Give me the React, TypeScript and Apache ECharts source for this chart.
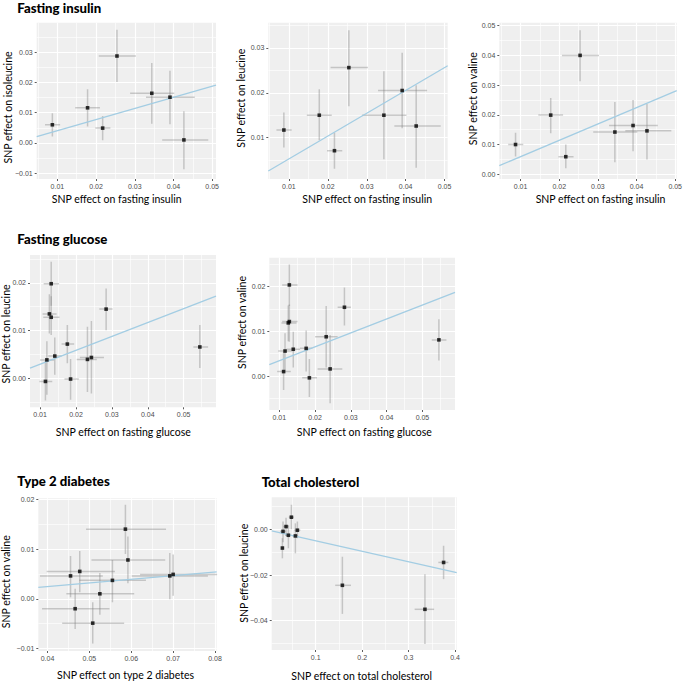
import React, { useEffect, useRef } from "react";
import * as echarts from "echarts";

// rows: [x, y, xLow, xHigh, yLow, yHigh]
const insulinIsoleucine = [
  [0.0087, 0.006, 0.0068, 0.0107, 0.0021, 0.0098],
  [0.0178, 0.0116, 0.0146, 0.021, 0.0054, 0.0177],
  [0.0217, 0.0049, 0.0198, 0.0237, 0.0009, 0.0089],
  [0.0254, 0.0287, 0.0207, 0.0303, 0.0201, 0.0374],
  [0.0344, 0.0164, 0.0288, 0.0402, 0.0063, 0.0264],
  [0.0391, 0.0151, 0.0329, 0.0455, 0.0062, 0.0238],
  [0.0427, 0.001, 0.0371, 0.049, -0.0087, 0.0105],
];
const insulinLeucine = [
  [0.0087, 0.0117, 0.0068, 0.0107, 0.0078, 0.0156],
  [0.0178, 0.015, 0.0146, 0.021, 0.0094, 0.0208],
  [0.0217, 0.0071, 0.0198, 0.0237, 0.0031, 0.0111],
  [0.0254, 0.0256, 0.0207, 0.0303, 0.017, 0.0339],
  [0.0344, 0.015, 0.0288, 0.0402, 0.0052, 0.0248],
  [0.0391, 0.0205, 0.0329, 0.0455, 0.0121, 0.0289],
  [0.0427, 0.0126, 0.0371, 0.049, 0.0033, 0.0217],
];
const insulinValine = [
  [0.0087, 0.01, 0.0068, 0.0107, 0.006, 0.014],
  [0.0178, 0.0199, 0.0146, 0.021, 0.0138, 0.0257],
  [0.0217, 0.0059, 0.0198, 0.0237, 0.002, 0.01],
  [0.0254, 0.04, 0.0207, 0.0303, 0.0313, 0.0485],
  [0.0344, 0.0142, 0.0288, 0.0402, 0.004, 0.0243],
  [0.0391, 0.0164, 0.0329, 0.0455, 0.0077, 0.025],
  [0.0427, 0.0146, 0.0371, 0.049, 0.005, 0.0236],
];
const glucoseLeucine = [
  [0.0131, 0.0198, 0.011, 0.0153, 0.0152, 0.0244],
  [0.0126, 0.0135, 0.0107, 0.0146, 0.0094, 0.0176],
  [0.0131, 0.0128, 0.0109, 0.0154, 0.0091, 0.0172],
  [0.0284, 0.0145, 0.0265, 0.0302, 0.0101, 0.0188],
  [0.0176, 0.0072, 0.016, 0.0195, 0.0032, 0.0112],
  [0.0141, 0.0047, 0.0123, 0.016, 0.0008, 0.0086],
  [0.0119, 0.0039, 0.01, 0.0139, -0.0034, 0.0078],
  [0.0115, -0.0006, 0.0098, 0.0134, -0.0046, 0.0037],
  [0.0185, -0.0001, 0.0168, 0.0208, -0.0044, 0.0041],
  [0.0232, 0.004, 0.0202, 0.0258, -0.0028, 0.0108],
  [0.0243, 0.0044, 0.0211, 0.0278, -0.0031, 0.012],
  [0.0545, 0.0066, 0.0527, 0.0568, 0.0022, 0.0112],
];
const glucoseValine = [
  [0.0128, 0.0204, 0.0108, 0.0151, 0.0157, 0.025],
  [0.0128, 0.0122, 0.0108, 0.0151, 0.0077, 0.016],
  [0.0125, 0.0119, 0.0106, 0.0148, 0.0078, 0.0158],
  [0.0282, 0.0154, 0.0263, 0.03, 0.0113, 0.0198],
  [0.0175, 0.0062, 0.0158, 0.0192, 0.001, 0.0102],
  [0.0139, 0.006, 0.012, 0.0158, 0.0019, 0.0099],
  [0.0116, 0.0056, 0.0097, 0.0135, 0.0013, 0.0096],
  [0.0112, 0.001, 0.0094, 0.0132, -0.0031, 0.0053],
  [0.0184, -0.0004, 0.0164, 0.0205, -0.0047, 0.0038],
  [0.0231, 0.0088, 0.02, 0.0263, 0.0019, 0.0157],
  [0.0242, 0.0016, 0.0207, 0.0276, -0.0061, 0.0092],
  [0.0546, 0.0081, 0.0526, 0.0567, 0.0035, 0.0127],
];
const t2dValine = [
  [0.0586, 0.014, 0.0492, 0.0683, 0.009, 0.0189],
  [0.0592, 0.0078, 0.0505, 0.0681, 0.0031, 0.0125],
  [0.0477, 0.0055, 0.0398, 0.0561, 0.0013, 0.0096],
  [0.0455, 0.0046, 0.0382, 0.0532, 0.0003, 0.0086],
  [0.0555, 0.0037, 0.0476, 0.0635, -0.0007, 0.0078],
  [0.0692, 0.0046, 0.0601, 0.0783, -0.0001, 0.0092],
  [0.07, 0.0049, 0.0621, 0.0805, 0.0006, 0.0089],
  [0.0525, 0.001, 0.0445, 0.0607, -0.0032, 0.0052],
  [0.0466, -0.002, 0.0387, 0.0548, -0.0061, 0.002],
  [0.0508, -0.0049, 0.0435, 0.0583, -0.009, -0.0007],
];
const cholesterolLeucine = [
  [0.0476, 0.0053, 0.042, 0.053, 0.0, 0.0107],
  [0.0361, 0.0012, 0.03, 0.042, -0.0029, 0.0051],
  [0.0296, -0.0009, 0.023, 0.036, -0.0057, 0.0034],
  [0.0411, -0.0026, 0.035, 0.047, -0.0083, 0.0019],
  [0.0605, -0.0004, 0.054, 0.067, -0.0039, 0.0034],
  [0.0562, -0.0029, 0.05, 0.062, -0.0105, 0.0026],
  [0.0282, -0.0082, 0.025, 0.032, -0.0127, -0.0039],
  [0.1574, -0.0245, 0.142, 0.176, -0.037, -0.012],
  [0.3352, -0.035, 0.313, 0.355, -0.0502, -0.0197],
  [0.3754, -0.0145, 0.364, 0.3856, -0.0218, -0.0072],
];

// regression lines: [slope, intercept]
const fitLines = [
  [0.367, 0.0004],
  [0.508, 0.0002],
  [0.551, 0.0004],
  [0.29, 0.0001],
  [0.312, 0.0003],
  [0.0728, -0.00045],
  [-0.046, -0.0004],
];

// axis extents [min, max]
const xExtents = [
  [0.00465, 0.051],
  [0.0047, 0.0508],
  [0.0045, 0.0504],
  [0.0072, 0.059],
  [0.0072, 0.0591],
  [0.0378, 0.0804],
  [0.0052, 0.4036],
];
const yExtents = [
  [-0.0119, 0.0397],
  [0.0008, 0.0356],
  [-0.0016, 0.051],
  [-0.006, 0.0258],
  [-0.0076, 0.0265],
  [-0.0105, 0.0202],
  [-0.0528, 0.014],
];

// tick labels
const xTicks = [
  [0.01, 0.02, 0.03, 0.04, 0.05],
  [0.01, 0.02, 0.03, 0.04, 0.05],
  [0.01, 0.02, 0.03, 0.04, 0.05],
  [0.01, 0.02, 0.03, 0.04, 0.05],
  [0.01, 0.02, 0.03, 0.04, 0.05],
  [0.04, 0.05, 0.06, 0.07, 0.08],
  [0.1, 0.2, 0.3, 0.4],
];
const yTicks = [
  [-0.01, 0.0, 0.01, 0.02, 0.03],
  [0.01, 0.02, 0.03],
  [0.0, 0.01, 0.02, 0.03, 0.04, 0.05],
  [0.0, 0.01, 0.02],
  [0.0, 0.01, 0.02],
  [-0.01, 0.0, 0.01, 0.02],
  [-0.04, -0.02, 0.0],
];
const xDecimals = [2, 2, 2, 2, 2, 2, 1];
const xSplit = [5, 5, 5, 5, 5, 5, 5];
const ySplit = [5, 3, 5, 3, 3, 3, 3];

const panelTitles = ["Fasting insulin", "Fasting glucose", "Type 2 diabetes", "Total cholesterol"];
const xTitles = [
  "SNP effect on fasting insulin",
  "SNP effect on fasting insulin",
  "SNP effect on fasting insulin",
  "SNP effect on fasting glucose",
  "SNP effect on fasting glucose",
  "SNP effect on type 2 diabetes",
  "SNP effect on total cholesterol",
];
const yTitles = [
  "SNP effect on isoleucine",
  "SNP effect on leucine",
  "SNP effect on valine",
  "SNP effect on leucine",
  "SNP effect on valine",
  "SNP effect on valine",
  "SNP effect on leucine",
];

const panels = [insulinIsoleucine, insulinLeucine, insulinValine, glucoseLeucine, glucoseValine, t2dValine, cholesterolLeucine];

// layout (pixels)
const grids = [
  { left: 36.7, top: 22.7, width: 179.3, height: 156.3 },
  { left: 268.3, top: 22.7, width: 179.4, height: 156.3 },
  { left: 499.3, top: 22.7, width: 179, height: 156.3 },
  { left: 30, top: 255, width: 186, height: 152.3 },
  { left: 269.3, top: 257.7, width: 185.7, height: 152.3 },
  { left: 38.3, top: 498.3, width: 178.4, height: 152.7 },
  { left: 271.7, top: 497.3, width: 185, height: 152.7 },
];
const xTitlePos = [
  [116.7, 199], [367.2, 199], [600.5, 199], [123.3, 431.7], [364.3, 431.7], [125.5, 675], [361.7, 675.7],
];
const yTitlePos = [
  [8, 107.5], [241.3, 98.3], [473.3, 98.7], [5.5, 334], [241.7, 322.5], [5.5, 581.7], [244.2, 573.3],
];
const panelTitlePos = [
  [17.3, 7.5], [17.3, 239], [17.3, 481.3], [261.7, 481.7],
];

const FONT = "Lato";
const BG = "#EFEFEF";

function fmt(v: number, d: number) {
  const s = Math.abs(v).toFixed(d);
  return (v < -1e-12 ? "\u2212" : "") + s;
}

export default function App() {
  const ref = useRef<HTMLDivElement>(null);
  useEffect(() => {
    if (!ref.current) return;
    const chart = echarts.init(ref.current, undefined, { renderer: "svg" });

    const xAxis = panels.map((_, i) => ({
      type: "value",
      gridIndex: i,
      position: "bottom",
      min: xExtents[i][0],
      max: xExtents[i][1],
      splitNumber: xSplit[i],
      axisLine: { show: false, onZero: false },
      axisTick: { show: true, length: 2, customValues: xTicks[i], lineStyle: { color: "#333", width: 0.8 } },
      axisLabel: {
        customValues: xTicks[i],
        formatter: (v: number) => fmt(v, xDecimals[i]),
        fontFamily: "Liberation Sans",
        fontSize: 7,
        color: "#4D4D4D",
        margin: 4,
      },
      splitLine: { show: true, lineStyle: { color: "#FFFFFF", width: 1.2 } },
      minorTick: { show: false, splitNumber: 2 },
      minorSplitLine: { show: true, lineStyle: { color: "#FFFFFF", width: 0.6 } },
    }));
    const yAxis = panels.map((_, i) => ({
      type: "value",
      gridIndex: i,
      position: "left",
      min: yExtents[i][0],
      max: yExtents[i][1],
      splitNumber: ySplit[i],
      axisLine: { show: false, onZero: false },
      axisTick: { show: true, length: 2, customValues: yTicks[i], lineStyle: { color: "#333", width: 0.8 } },
      axisLabel: {
        customValues: yTicks[i],
        formatter: (v: number) => fmt(v, 2),
        fontFamily: "Liberation Sans",
        fontSize: 7,
        color: "#4D4D4D",
        margin: 4,
      },
      splitLine: { show: true, lineStyle: { color: "#FFFFFF", width: 1.2 } },
      minorTick: { show: false, splitNumber: 2 },
      minorSplitLine: { show: true, lineStyle: { color: "#FFFFFF", width: 0.6 } },
    }));

    const series: any[] = [];
    panels.forEach((rows, i) => {
      series.push({
        type: "custom",
        xAxisIndex: i,
        yAxisIndex: i,
        clip: true,
        silent: true,
        data: rows,
        encode: { x: 0, y: 1 },
        renderItem: (_p: any, api: any) => {
          const x = api.value(0), y = api.value(1);
          const a = api.coord([api.value(2), y]);
          const b = api.coord([api.value(3), y]);
          const c = api.coord([x, api.value(4)]);
          const d = api.coord([x, api.value(5)]);
          const st = { stroke: "rgba(125,125,125,0.38)", lineWidth: 1.5 };
          return {
            type: "group",
            children: [
              { type: "line", shape: { x1: a[0], y1: a[1], x2: b[0], y2: b[1] }, style: st },
              { type: "line", shape: { x1: c[0], y1: c[1], x2: d[0], y2: d[1] }, style: st },
            ],
          };
        },
        z: 2,
      });
      const [s, b] = fitLines[i];
      const [x0, x1] = xExtents[i];
      series.push({
        type: "line",
        xAxisIndex: i,
        yAxisIndex: i,
        data: [[x0, s * x0 + b], [x1, s * x1 + b]],
        symbol: "none",
        lineStyle: { color: "#A3CDE3", width: 1.3 },
        silent: true,
        z: 3,
      });
      series.push({
        type: "scatter",
        xAxisIndex: i,
        yAxisIndex: i,
        data: rows.map((r) => [r[0], r[1]]),
        symbol: "rect",
        symbolSize: 3.6,
        itemStyle: { color: "#000" },
        silent: true,
        z: 4,
      });
    });

    const graphic: any[] = [];
    panelTitles.forEach((t, k) => {
      graphic.push({
        type: "text",
        x: panelTitlePos[k][0],
        y: panelTitlePos[k][1],
        style: { text: t, font: `900 13.2px ${FONT}`, fill: "#000", align: "left", verticalAlign: "middle" },
      });
    });
    xTitles.forEach((t, i) => {
      graphic.push({
        type: "text",
        x: xTitlePos[i][0],
        y: xTitlePos[i][1],
        style: { text: t, font: `10.5px ${FONT}`, fill: "#000", align: "center", verticalAlign: "middle" },
      });
    });
    yTitles.forEach((t, i) => {
      graphic.push({
        type: "text",
        x: yTitlePos[i][0],
        y: yTitlePos[i][1],
        rotation: Math.PI / 2,
        style: { text: t, font: `10.5px ${FONT}`, fill: "#000", align: "center", verticalAlign: "middle" },
      });
    });

    chart.setOption({
      animation: false,
      backgroundColor: "#FFFFFF",
      grid: grids.map((g) => ({ ...g, backgroundColor: BG, show: true, borderWidth: 0, containLabel: false })),
      xAxis,
      yAxis,
      series,
      graphic,
    });
    return () => chart.dispose();
  }, []);
  return <div ref={ref} style={{ position: "absolute", left: 0, top: 0, width: 685, height: 681 }} />;
}
